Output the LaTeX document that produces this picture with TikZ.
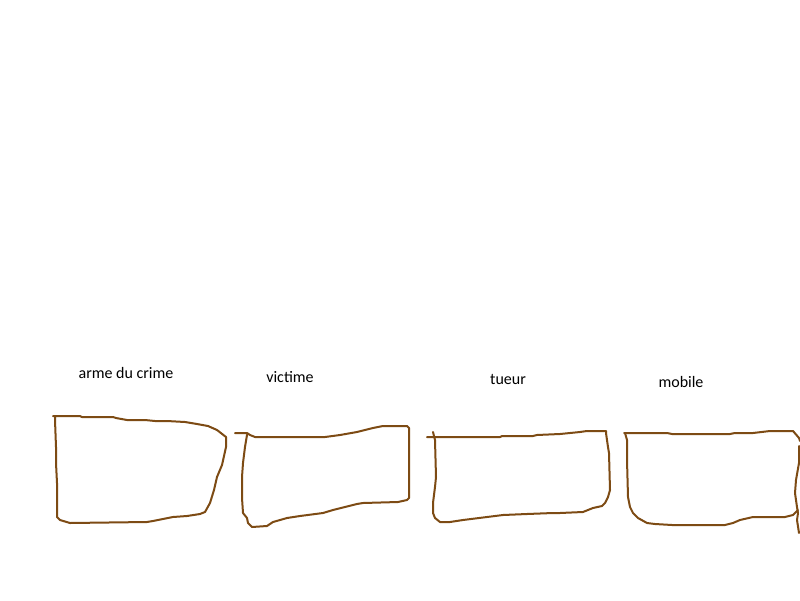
\documentclass[tikz,border=0pt]{standalone}
\usepackage{fontspec}
\setmainfont{Carlito}
\definecolor{ink}{RGB}{125,75,20}
\begin{document}
\begin{tikzpicture}[x=1pt,y=-1pt,
  stroke/.style={draw=ink,line width=2pt,line join=round,line cap=round},
  lbl/.style={font=\fontsize{16}{19}\selectfont,inner sep=0pt}]
\useasboundingbox[fill=white] (0,0) rectangle (800,600);
% labels
\node[lbl] (l1) at (126,373) {arme du crime};
\node[lbl] (l2) at (290,377) {victime};
\node[lbl] (l3) at (508,379) {tueur};
\node[lbl] (l4) at (681,382) {mobile};
% box 1
\draw[stroke] (53,416) -- (80,416) -- (82,417) -- (113,417) -- (116,418) -- (127,420) -- (145,420) -- (155,421) -- (167,421) -- (185,422) -- (197,424) -- (208,426) -- (217,430) -- (226,437)
  -- (226,447) -- (222,465) -- (217,477) -- (214,490) -- (210,503) -- (205,512) -- (200,514) -- (187,516) -- (173,517) -- (153,521) -- (147,522) -- (70,523) -- (60,520) -- (57,517)
  -- (57,483) -- (56,463) -- (56,447) -- (55,420) -- (55,417);
% box 2
\draw[stroke] (235,433) -- (247,433) -- (250,435) -- (255,437) -- (325,437) -- (340,435) -- (357,432) -- (373,428) -- (383,426) -- (407,426) -- (409,428)
  -- (409,498) -- (407,500) -- (398,502) -- (363,503) -- (357,504) -- (333,510) -- (323,513) -- (300,516) -- (287,518) -- (273,522) -- (267,526) -- (252,527) -- (248,523)
  -- (247,518) -- (243,513) -- (242,498) -- (242,477) -- (243,463) -- (245,447) -- (247,435);
% box 3
\draw[stroke] (427,437) -- (500,437) -- (502,436) -- (533,436) -- (537,435) -- (560,434) -- (580,432) -- (587,431) -- (606,431)
  -- (606,433) -- (608,447) -- (609,453) -- (610,490) -- (608,497) -- (605,503) -- (602,506) -- (593,508) -- (583,512) -- (560,513) -- (553,513) -- (527,514) -- (503,515) -- (487,517) -- (463,520) -- (450,522) -- (440,522) -- (435,518)
  -- (433,513) -- (433,503) -- (435,487) -- (436,477) -- (435,440) -- (433,432);
% box 4
\draw[stroke] (624,433) -- (667,433) -- (672,434) -- (730,434) -- (735,433) -- (753,433) -- (770,431) -- (793,431) -- (799,438) -- (800,441);
\draw[stroke] (625,433) -- (627,440) -- (627,460) -- (628,497) -- (630,507) -- (633,513) -- (638,518) -- (647,523) -- (655,524) -- (672,525) -- (725,525) -- (733,523) -- (740,520) -- (753,517) -- (785,517) -- (793,515) -- (798,510);
% right edge line
\draw[stroke] (799,446) -- (799,463) -- (796,480) -- (795,493) -- (797,507) -- (798,513) -- (797,520) -- (799,533);
\end{tikzpicture}
\end{document}
